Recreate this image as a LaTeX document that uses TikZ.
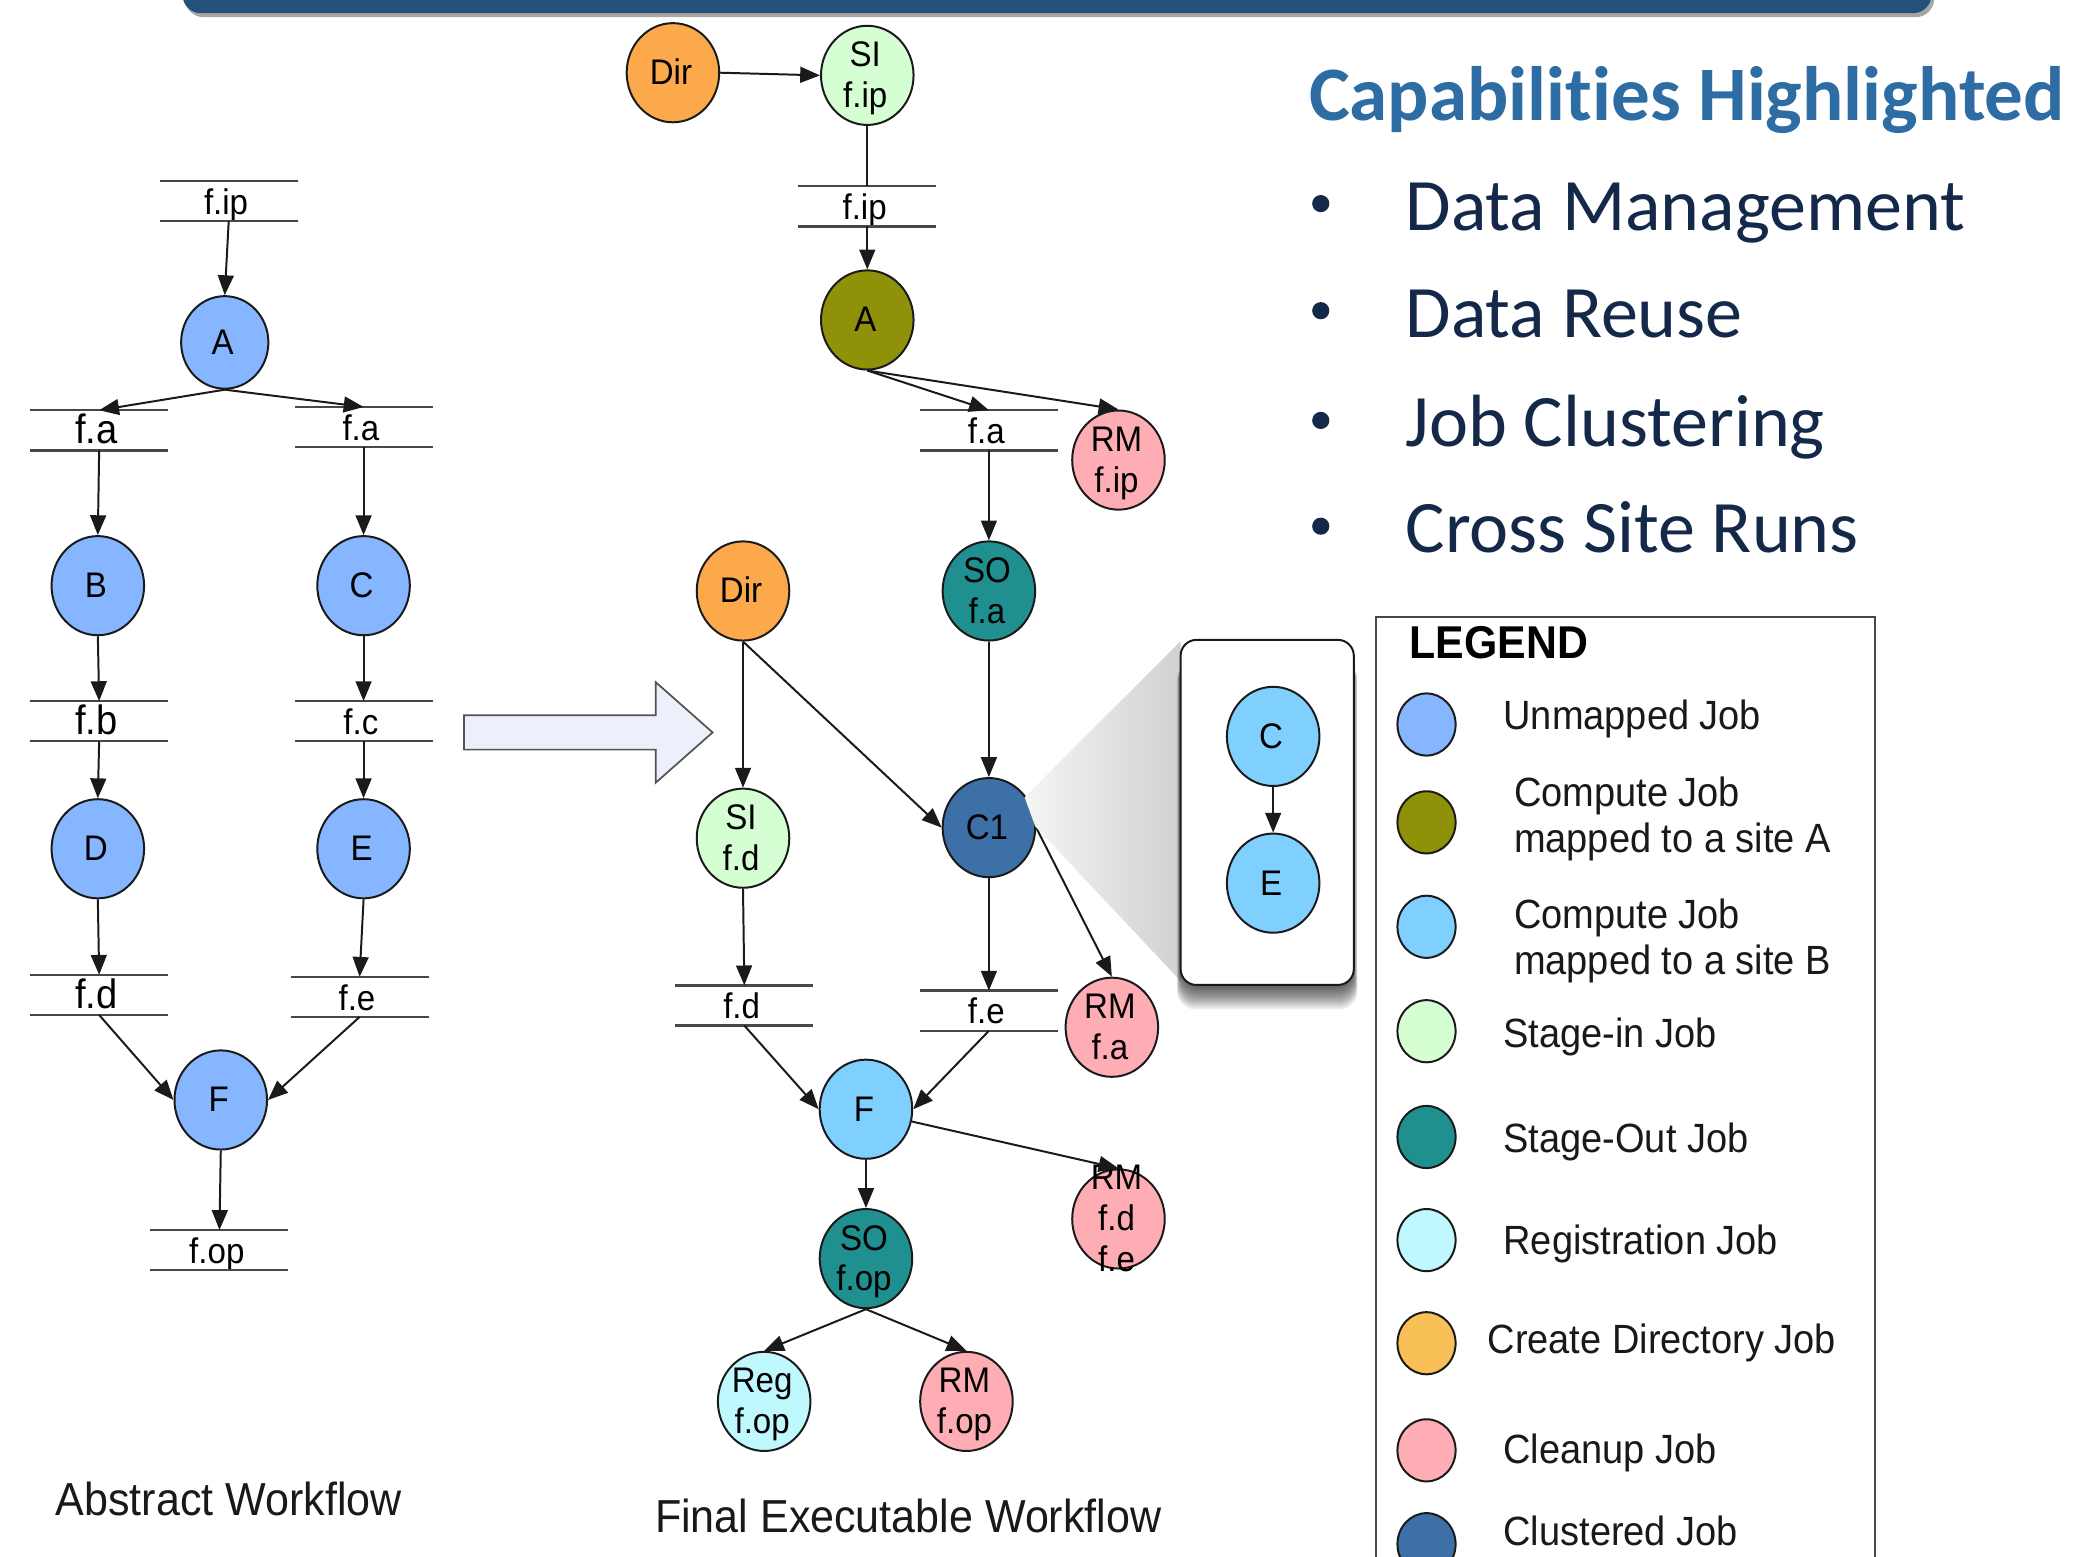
\documentclass[tikz,border=0pt]{standalone}
\usepackage{fontspec}
\setmainfont{Liberation Sans}[FakeStretch=0.93]
\newfontfamily\calfont{Carlito}[Ligatures=NoCommon]
\usetikzlibrary{arrows.meta,shapes.geometric}
\definecolor{cUnm}{HTML}{85B6FF}
\definecolor{cA}{HTML}{8F9109}
\definecolor{cB}{HTML}{80D0FF}
\definecolor{cSI}{HTML}{D5FFD3}
\definecolor{cSO}{HTML}{208F8F}
\definecolor{cReg}{HTML}{BFF8FF}
\definecolor{cDir}{HTML}{FBA94A}
\definecolor{cDirL}{HTML}{F8C057}
\definecolor{cRM}{HTML}{FDADB3}
\definecolor{cCl}{HTML}{3E70A8}
\definecolor{cBar}{HTML}{24507A}
\definecolor{cHead}{HTML}{2E6CA4}
\definecolor{cBody}{HTML}{14294A}
\definecolor{cLine}{HTML}{1A1A1A}
\definecolor{cArrow}{HTML}{EBF0FA}
\newcommand\jt[1]{\raisebox{-18pt}{\smash{\makebox[0pt]{\kern-3pt\begin{tabular}{@{}c@{}}#1\end{tabular}}}}}
\newcommand\dt[1]{\hspace*{-4pt}#1}
\newcommand\dtbig[1]{\fontsize{31}{31}\selectfont\hspace*{-4pt}#1}
\tikzset{
 x=1pt,y=-1pt,
 job/.style={ellipse,draw=cLine,line width=1.5pt,inner sep=0pt,minimum width=70pt,minimum height=75pt,font=\fontsize{26.9}{31}\selectfont,text=black},
 legjob/.style={ellipse,draw=cLine,line width=1.5pt,inner sep=0pt,minimum width=44pt,minimum height=47pt},
 bar/.style={draw=cLine!80,line width=1.8pt},
 datafile/.style={inner sep=0pt,minimum width=104pt,minimum height=30pt,font=\fontsize{26.9}{31}\selectfont,text height=24pt,text depth=4pt,
   append after command={(\tikzlastnode.north west) edge[bar] (\tikzlastnode.north east) (\tikzlastnode.south west) edge[bar] (\tikzlastnode.south east)}},
 conn/.style={draw=cLine,line width=1.5pt,-{Triangle[length=15pt,width=12pt]}},
 plain/.style={draw=cLine,line width=1.5pt},
 legtxt/.style={anchor=west,inner sep=0pt,align=left,font=\fontsize{30.9}{35}\selectfont,text=black!90,text height=23pt,text depth=7pt},
 caption/.style={inner sep=0pt,font=\fontsize{35}{38}\selectfont,text=black!90},
 bullettxt/.style={anchor=west,inner sep=0pt,font=\calfont\fontsize{56}{60}\selectfont,text=cBody,text height=36pt,text depth=12pt},
}
\begin{document}
\begin{tikzpicture}
\useasboundingbox (0,0) rectangle (1568,1177.7);
\clip (0,0) rectangle (1568,1177.7);
\fill[white] (0,0) rectangle (1568,1177.7);
% top banner
\fill[gray!70,rounded corners=14pt] (140,-30) rectangle (1463,13);
\fill[cBar,rounded corners=14pt] (138,-30) rectangle (1461,10);
% heading
\node[anchor=west,inner sep=0pt,font=\calfont\bfseries\fontsize{58.3}{60}\selectfont,text=cHead] (head) at (990,76) {Capabilities Highlighted};
\foreach \n/\yy/\tx in {1/156/Data Management,2/237/Data Reuse,3/320/Job Clustering,4/400/Cross Site Runs}{
  \node[bullettxt] (bt\n) at (1063,\yy+6) {\tx};
  \fill[cBody] (999,\yy-2) circle (6.5pt);
}
% abstract workflow
\node[datafile] (afip) at (173,152) {\dt{f.ip}};
\node[job,fill=cUnm,minimum width=66pt,minimum height=70pt] (aA) at (170,259) {\jt{A}};
\node[datafile] (afa1) at (75,325.5) {\dtbig{f.a}};
\node[datafile] (afa2) at (275,323) {\dt{f.a}};
\node[job,fill=cUnm] (aB) at (74,443) {\jt{B}};
\node[job,fill=cUnm] (aC) at (275,443) {\jt{C}};
\node[datafile] (afb) at (75,545.5) {\dtbig{f.b}};
\node[datafile] (afc) at (275,545.5) {\dt{f.c}};
\node[job,fill=cUnm] (aD) at (74,642) {\jt{D}};
\node[job,fill=cUnm] (aE) at (275,642) {\jt{E}};
\node[datafile] (afd) at (75,752.5) {\dtbig{f.d}};
\node[datafile] (afe) at (272,754) {\dt{f.e}};
\node[job,fill=cUnm] (aF) at (167,832) {\jt{F}};
\node[datafile] (afop) at (166,945.5) {\dt{f.op}};
\draw[conn] (afip.south) -- (aA.north);
\draw[conn] (aA.south) -- (afa1.north);
\draw[conn] (aA.south) -- (afa2.north);
\draw[conn] (afa1.south) -- (aB.north);
\draw[conn] (afa2.south) -- (aC.north);
\draw[conn] (aB.south) -- (afb.north);
\draw[conn] (aC.south) -- (afc.north);
\draw[conn] (afb.south) -- (aD.north);
\draw[conn] (afc.south) -- (aE.north);
\draw[conn] (aD.south) -- (afd.north);
\draw[conn] (aE.south) -- (afe.north);
\draw[conn] (afd.south) -- (aF.west);
\draw[conn] (afe.south) -- (aF.east);
\draw[conn] (aF.south) -- (afop.north);
\node[caption] (capA) at (173,1134) {Abstract Workflow};
% big arrow
\draw[draw=cLine!75,fill=cArrow,line width=1.3pt] (351,541) -- (496,541) -- (496,516) -- (539,554) -- (496,592) -- (496,567) -- (351,567) -- cycle;
% final workflow
\node[job,fill=cDir] (bDir1) at (509,55) {\jt{Dir}};
\node[job,fill=cSI] (bSI1) at (656,57) {\jt{SI\\f.ip}};
\node[datafile] (bfip) at (656,156) {\dt{f.ip}};
\node[job,fill=cA] (bA) at (656,242) {\jt{A}};
\node[datafile] (bfa) at (748,325.5) {\dt{f.a}};
\node[job,fill=cRM] (bRM1) at (846,348) {\jt{RM\\f.ip}};
\node[job,fill=cDir] (bDir2) at (562,447) {\jt{Dir}};
\node[job,fill=cSO] (bSO1) at (748,447) {\jt{SO\\f.a}};
\node[job,fill=cSI] (bSI2) at (562,634) {\jt{SI\\f.d}};
\node[job,fill=cCl] (bC1) at (748,626) {\jt{C1}};
\node[datafile] (bfd) at (563,760.5) {\dt{f.d}};
\node[datafile] (bfe) at (748,764.5) {\dt{f.e}};
\node[job,fill=cRM] (bRM2) at (841,777) {\jt{RM\\f.a}};
\node[job,fill=cB] (bF) at (655,839) {\jt{F}};
\node[job,fill=cRM] (bRM3) at (846,922) {\jt{RM\\f.d\\f.e}};
\node[job,fill=cSO] (bSO2) at (655,952) {\jt{SO\\f.op}};
\node[job,fill=cReg] (bReg) at (578,1060) {\jt{Reg\\f.op}};
\node[job,fill=cRM] (bRM4) at (731,1060) {\jt{RM\\f.op}};
\draw[conn] (bDir1.east) -- (bSI1.west);
\draw[plain] (bSI1.south) -- (bfip.north);
\draw[conn] (bfip.south) -- (bA.north);
\draw[conn] (bA.south) -- (bfa.north);
\draw[conn] (bA.south) -- (bRM1.north);
\draw[conn] (bfa.south) -- (bSO1.north);
\draw[conn] (bSO1.south) -- (bC1.north);
\draw[conn] (bDir2.south) -- (bSI2.north);
\draw[conn] (bDir2.south) -- (bC1.west);
\draw[conn] (bC1.south) -- (bfe.north);
\draw[conn] (bC1.east) -- (bRM2.north);
\draw[conn] (bSI2.south) -- (bfd.north);
\draw[conn] (bfd.south) -- (bF.west);
\draw[conn] (bfe.south) -- (bF.east);
\draw[conn] (bF.-15) -- (bRM3.north);
\draw[conn] (bF.south) -- (bSO2.north);
\draw[conn] (bSO2.south) -- (bReg.north);
\draw[conn] (bSO2.south) -- (bRM4.north);
\node[caption] (capB) at (687,1147) {Final Executable Workflow};
% callout
\shade[left color=gray!8,right color=gray!36] (775,603) -- (893,485) -- (893,742) -- (783,625) -- cycle;
\foreach \s in {0,1,...,11}{
  \fill[black,opacity=.07,rounded corners=14pt] (893-\s*.25,500) rectangle (1024+\s*.25,747+\s*1.5);
}
\node[draw=cLine,line width=1.5pt,fill=white,rounded corners=12pt,minimum width=131pt,minimum height=261pt,inner sep=0pt] (inset) at (958.5,614.5) {};
\node[job,fill=cB] (iC) at (963,557) {\jt{C}};
\node[job,fill=cB] (iE) at (963,668) {\jt{E}};
\draw[conn] (iC.south) -- (iE.north);
% legend
\draw[draw=cLine!80,line width=1.5pt] (1041,1200) -- (1041,467) -- (1418,467) -- (1418,1200);
\node[anchor=west,inner sep=0pt,font=\bfseries\fontsize{34.8}{36}\selectfont] (legtitle) at (1066,486) {LEGEND};
\node[legjob,fill=cUnm] (l1) at (1079,548) {};
\node[legjob,fill=cA] (l2) at (1079,622) {};
\node[legjob,fill=cB] (l3) at (1079,701) {};
\node[legjob,fill=cSI] (l4) at (1079,780) {};
\node[legjob,fill=cSO] (l5) at (1079,860) {};
\node[legjob,fill=cReg] (l6) at (1079,938) {};
\node[legjob,fill=cDirL] (l7) at (1079,1016) {};
\node[legjob,fill=cRM] (l8) at (1079,1097) {};
\node[legjob,fill=cCl] (l9) at (1079,1168) {};
\node[legtxt] (t1) at (1137,544) {Unmapped Job};
\node[legtxt] (t2) at (1145,637) {Compute Job\\mapped to a site A};
\node[legtxt] (t3) at (1145,729) {Compute Job\\mapped to a site B};
\node[legtxt] (t4) at (1137,784) {Stage-in Job};
\node[legtxt] (t5) at (1137,864) {Stage-Out Job};
\node[legtxt] (t6) at (1137,941) {Registration Job};
\node[legtxt] (t7) at (1125,1016) {Create Directory Job};
\node[legtxt] (t8) at (1137,1099) {Cleanup Job};
\node[legtxt] (t9) at (1137,1161) {Clustered Job};
\end{tikzpicture}
\end{document}
